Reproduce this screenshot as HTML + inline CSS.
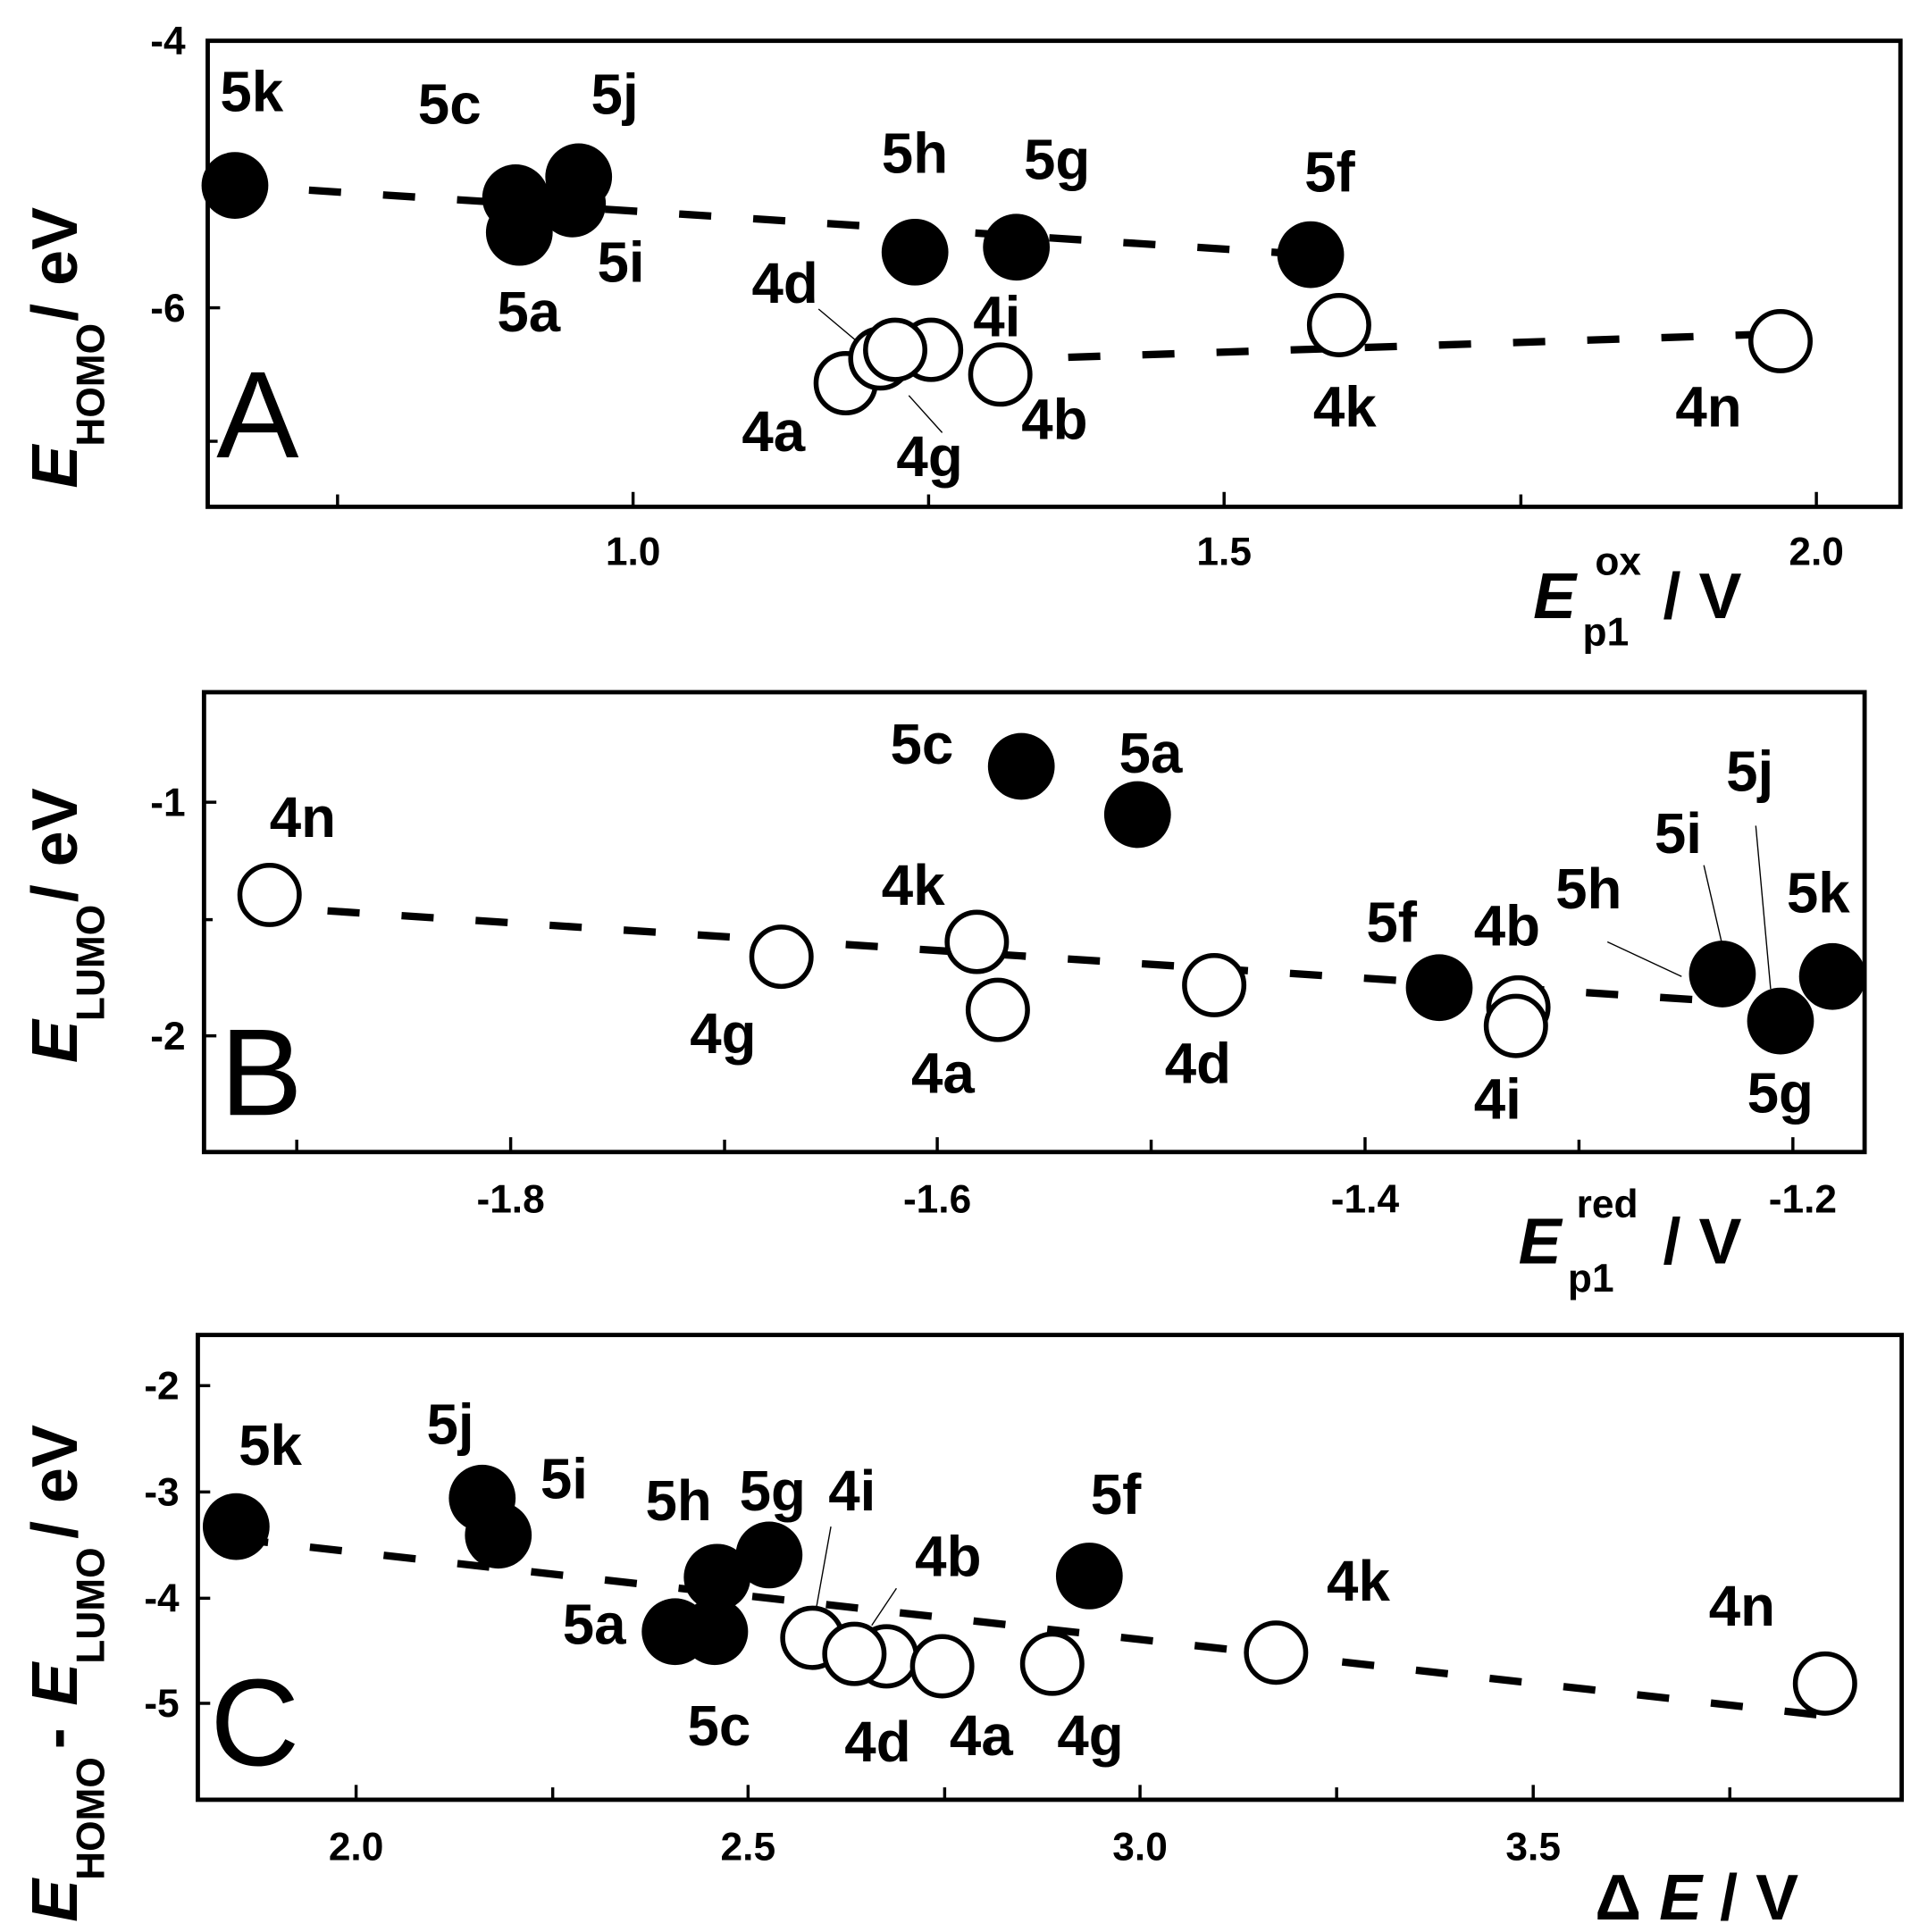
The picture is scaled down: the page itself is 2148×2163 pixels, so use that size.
<!DOCTYPE html>
<html><head><meta charset="utf-8"><style>
html,body{margin:0;padding:0;background:#fff;}
svg{display:block;}
text{font-family:"Liberation Sans",Arial,sans-serif;font-weight:bold;fill:#000;}
.lab{font-size:46px;}
.tk{font-size:32px;}
.big{font-size:100px;font-weight:normal;}
.ax{font-size:52px;}
.f{fill:#000;}
.o{fill:#fff;stroke:#000;stroke-width:4;}
.d{stroke:#000;stroke-width:6;stroke-dasharray:26,34;fill:none;}
.fr{fill:none;stroke:#000;stroke-width:3.5;}
.t{stroke:#000;stroke-width:2.5;}
.ln{stroke:#000;stroke-width:1;}
</style></head><body>
<svg width="2148" height="2163" viewBox="0 0 1552 1563" preserveAspectRatio="none" xmlns="http://www.w3.org/2000/svg">
<!-- Panel A -->
<rect class="fr" x="168" y="33" width="1369" height="377"/>
<g class="t">
<line x1="168" y1="33" x2="178" y2="33"/><line x1="168" y1="141" x2="176" y2="141"/><line x1="168" y1="249" x2="178" y2="249"/><line x1="168" y1="357" x2="176" y2="357"/>
<line x1="273" y1="410" x2="273" y2="400"/><line x1="512" y1="410" x2="512" y2="398"/><line x1="751" y1="410" x2="751" y2="400"/><line x1="990" y1="410" x2="990" y2="398"/><line x1="1230" y1="410" x2="1230" y2="400"/><line x1="1469" y1="410" x2="1469" y2="398"/>
</g>
<text class="tk" x="150" y="44" text-anchor="end">-4</text>
<text class="tk" x="150" y="260" text-anchor="end">-6</text>
<text class="tk" x="512" y="457" text-anchor="middle">1.0</text>
<text class="tk" x="990" y="457" text-anchor="middle">1.5</text>
<text class="tk" x="1469" y="457" text-anchor="middle">2.0</text>
<text class="ax" x="1240" y="500" font-style="italic">E</text><text class="tk" x="1280" y="522">p1</text><text class="tk" x="1290" y="465">ox</text><text class="ax" x="1345" y="500">/ V</text>
<text class="big" x="175" y="370">A</text>
<g transform="translate(62,395) rotate(-90)"><text class="ax" x="0" y="0" font-style="italic">E</text><text class="tk" x="34" y="22">HOMO</text><text class="ax" x="135" y="0">/ eV</text></g>
<line class="d" x1="190" y1="150" x2="1060" y2="206"/>
<line class="d" x1="684" y1="295" x2="1440" y2="270"/>
<line class="ln" x1="662" y1="250" x2="700" y2="282"/><line class="ln" x1="735" y1="320" x2="762" y2="350"/>
<circle class="f" cx="190" cy="150" r="27"/><circle class="f" cx="417" cy="160" r="27"/><circle class="f" cx="420" cy="188" r="27"/>
<circle class="f" cx="468" cy="143" r="27"/><circle class="f" cx="463" cy="165" r="27"/>
<circle class="f" cx="740" cy="204" r="27"/><circle class="f" cx="822" cy="200" r="27"/><circle class="f" cx="1060" cy="206" r="27"/>
<circle class="o" cx="684" cy="310" r="24"/><circle class="o" cx="753" cy="283" r="24"/><circle class="o" cx="712" cy="290" r="24"/><circle class="o" cx="724" cy="283" r="24"/>
<circle class="o" cx="809" cy="303" r="24"/><circle class="o" cx="1083" cy="263" r="24"/><circle class="o" cx="1440" cy="276" r="24"/>
<text class="lab" x="178" y="90">5k</text><text class="lab" x="338" y="100">5c</text><text class="lab" x="478" y="92">5j</text>
<text class="lab" x="713" y="140">5h</text><text class="lab" x="828" y="145">5g</text><text class="lab" x="1055" y="155">5f</text>
<text class="lab" x="483" y="228">5i</text><text class="lab" x="402" y="268">5a</text><text class="lab" x="608" y="245">4d</text>
<text class="lab" x="787" y="272">4i</text><text class="lab" x="600" y="365">4a</text><text class="lab" x="725" y="385">4g</text>
<text class="lab" x="826" y="355">4b</text><text class="lab" x="1062" y="345">4k</text><text class="lab" x="1355" y="345">4n</text>

<!-- Panel B -->
<rect class="fr" x="165" y="560" width="1343" height="372"/>
<g class="t">
<line x1="165" y1="649" x2="175" y2="649"/><line x1="165" y1="838" x2="175" y2="838"/><line x1="165" y1="744" x2="172" y2="744"/>
<line x1="240" y1="932" x2="240" y2="922"/><line x1="413" y1="932" x2="413" y2="920"/><line x1="586" y1="932" x2="586" y2="922"/><line x1="758" y1="932" x2="758" y2="920"/><line x1="931" y1="932" x2="931" y2="922"/><line x1="1104" y1="932" x2="1104" y2="920"/><line x1="1277" y1="932" x2="1277" y2="922"/><line x1="1450" y1="932" x2="1450" y2="920"/>
</g>
<text class="tk" x="150" y="660" text-anchor="end">-1</text>
<text class="tk" x="150" y="849" text-anchor="end">-2</text>
<text class="tk" x="413" y="981" text-anchor="middle">-1.8</text>
<text class="tk" x="758" y="981" text-anchor="middle">-1.6</text>
<text class="tk" x="1104" y="981" text-anchor="middle">-1.4</text>
<text class="tk" x="1458" y="981" text-anchor="middle">-1.2</text>
<text class="ax" x="1228" y="1022" font-style="italic">E</text><text class="tk" x="1268" y="1045">p1</text><text class="tk" x="1275" y="985">red</text><text class="ax" x="1345" y="1022">/ V</text>
<text class="big" x="178" y="902">B</text>
<g transform="translate(62,860) rotate(-90)"><text class="ax" x="0" y="0" font-style="italic">E</text><text class="tk" x="34" y="22">LUMO</text><text class="ax" x="130" y="0">/ eV</text></g>
<line class="d" x1="205" y1="733" x2="1390" y2="810"/>
<line class="ln" x1="1300" y1="762" x2="1360" y2="790"/><line class="ln" x1="1378" y1="700" x2="1393" y2="765"/><line class="ln" x1="1420" y1="668" x2="1432" y2="800"/>
<circle class="o" cx="218" cy="724" r="24"/><circle class="o" cx="632" cy="774" r="24"/><circle class="o" cx="790" cy="762" r="24"/><circle class="o" cx="807" cy="817" r="24"/>
<circle class="o" cx="982" cy="797" r="24"/><circle class="o" cx="1228" cy="815" r="24"/><circle class="o" cx="1226" cy="830" r="24"/>
<circle class="f" cx="826" cy="620" r="27"/><circle class="f" cx="920" cy="659" r="27"/><circle class="f" cx="1164" cy="799" r="27"/>
<circle class="f" cx="1393" cy="788" r="27"/><circle class="f" cx="1482" cy="790" r="27"/><circle class="f" cx="1440" cy="826" r="27"/>
<text class="lab" x="218" y="677">4n</text><text class="lab" x="720" y="618">5c</text><text class="lab" x="905" y="625">5a</text>
<text class="lab" x="713" y="732">4k</text><text class="lab" x="558" y="852">4g</text><text class="lab" x="737" y="884">4a</text>
<text class="lab" x="942" y="876">4d</text><text class="lab" x="1105" y="762">5f</text><text class="lab" x="1192" y="765">4b</text>
<text class="lab" x="1192" y="905">4i</text><text class="lab" x="1258" y="735">5h</text><text class="lab" x="1338" y="690">5i</text>
<text class="lab" x="1396" y="640">5j</text><text class="lab" x="1445" y="738">5k</text><text class="lab" x="1413" y="900">5g</text>

<!-- Panel C -->
<rect class="fr" x="160" y="1080" width="1378" height="376"/>
<g class="t">
<line x1="160" y1="1121" x2="170" y2="1121"/><line x1="160" y1="1207" x2="170" y2="1207"/><line x1="160" y1="1293" x2="170" y2="1293"/><line x1="160" y1="1378" x2="170" y2="1378"/>
<line x1="288" y1="1456" x2="288" y2="1444"/><line x1="447" y1="1456" x2="447" y2="1446"/><line x1="605" y1="1456" x2="605" y2="1444"/><line x1="764" y1="1456" x2="764" y2="1446"/><line x1="922" y1="1456" x2="922" y2="1444"/><line x1="1081" y1="1456" x2="1081" y2="1446"/><line x1="1240" y1="1456" x2="1240" y2="1444"/><line x1="1399" y1="1456" x2="1399" y2="1446"/>
</g>
<text class="tk" x="145" y="1132" text-anchor="end">-2</text>
<text class="tk" x="145" y="1218" text-anchor="end">-3</text>
<text class="tk" x="145" y="1304" text-anchor="end">-4</text>
<text class="tk" x="145" y="1389" text-anchor="end">-5</text>
<text class="tk" x="288" y="1505" text-anchor="middle">2.0</text>
<text class="tk" x="605" y="1505" text-anchor="middle">2.5</text>
<text class="tk" x="922" y="1505" text-anchor="middle">3.0</text>
<text class="tk" x="1240" y="1505" text-anchor="middle">3.5</text>
<text class="ax" x="1290" y="1553">Δ <tspan font-style="italic">E</tspan> / V</text>
<text class="big" x="170" y="1428">C</text>
<g transform="translate(62,1555) rotate(-90)"><text class="ax" x="0" y="0" font-style="italic">E</text><text class="tk" x="34" y="22">HOMO</text><text class="ax" x="140" y="0">-</text><text class="ax" x="175" y="0" font-style="italic">E</text><text class="tk" x="209" y="22">LUMO</text><text class="ax" x="310" y="0">/ eV</text></g>
<line class="d" x1="191" y1="1245" x2="1476" y2="1388"/>
<line class="ln" x1="672" y1="1235" x2="660" y2="1302"/><line class="ln" x1="725" y1="1285" x2="705" y2="1315"/>
<circle class="f" cx="191" cy="1235" r="27"/><circle class="f" cx="390" cy="1212" r="27"/><circle class="f" cx="403" cy="1242" r="27"/>
<circle class="f" cx="622" cy="1258" r="27"/><circle class="f" cx="580" cy="1276" r="27"/><circle class="f" cx="546" cy="1320" r="27"/><circle class="f" cx="578" cy="1320" r="27"/>
<circle class="f" cx="881" cy="1275" r="27"/>
<circle class="o" cx="657" cy="1325" r="24"/><circle class="o" cx="717" cy="1340" r="24"/><circle class="o" cx="691" cy="1338" r="24"/><circle class="o" cx="762" cy="1348" r="24"/>
<circle class="o" cx="851" cy="1346" r="24"/><circle class="o" cx="1032" cy="1337" r="24"/><circle class="o" cx="1476" cy="1362" r="24"/>
<text class="lab" x="193" y="1185">5k</text><text class="lab" x="345" y="1168">5j</text><text class="lab" x="437" y="1212">5i</text>
<text class="lab" x="522" y="1230">5h</text><text class="lab" x="598" y="1222">5g</text><text class="lab" x="670" y="1222">4i</text>
<text class="lab" x="882" y="1225">5f</text><text class="lab" x="740" y="1275">4b</text><text class="lab" x="1073" y="1295">4k</text>
<text class="lab" x="1382" y="1315">4n</text><text class="lab" x="455" y="1330">5a</text><text class="lab" x="556" y="1412">5c</text>
<text class="lab" x="683" y="1425">4d</text><text class="lab" x="768" y="1420">4a</text><text class="lab" x="855" y="1420">4g</text>
</svg>
</body></html>
